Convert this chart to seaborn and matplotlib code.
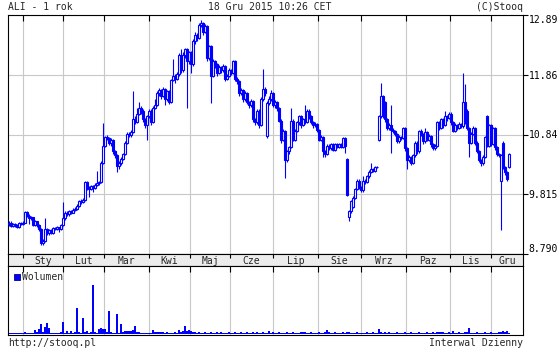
import numpy as np
import pandas as pd
import matplotlib
matplotlib.use("Agg")
import matplotlib.pyplot as plt
from matplotlib.patches import Rectangle
import seaborn as sns

# ---------------- data ----------------
opens = [
    9.30, 9.33, 9.27, 9.30, 9.28, 9.25, 9.32, 9.30, 9.33, 9.51,
    9.45, 9.40, 9.42, 9.29, 9.35, 9.28, 9.22, 8.98, 9.02, 9.22,
    9.15, 9.20, 9.15, 9.23, 9.22, 9.25, 9.22, 9.28, 9.40, 9.50,
    9.47, 9.52, 9.50, 9.55, 9.56, 9.62, 9.70, 9.68, 9.72, 10.02,
    9.92, 9.90, 9.95, 9.93, 9.98, 10.00, 10.02, 10.35, 10.65, 10.80,
    10.78, 10.70, 10.75, 10.55, 10.48, 10.30, 10.35, 10.42, 10.50, 10.70,
    10.85, 10.83, 10.88, 11.10, 11.05, 11.20, 11.30, 11.25, 11.10, 11.00,
    11.15, 11.25, 11.05, 11.30, 11.35, 11.55, 11.60, 11.50, 11.62, 11.45,
    11.58, 11.40, 11.78, 11.85, 11.80, 11.88, 12.20, 11.95, 12.20, 12.30,
    12.10, 12.25, 12.05, 12.45, 12.55, 12.50, 12.72, 12.75, 12.60, 12.70,
    12.15, 12.35, 11.85, 12.10, 12.05, 11.90, 12.00, 11.95, 12.02, 11.80,
    11.85, 11.95, 11.90, 12.10, 11.80, 11.75, 11.55, 11.60, 11.45, 11.55,
    11.40, 11.35, 11.42, 11.10, 11.05, 11.25, 11.00, 11.45, 11.62, 10.82,
    11.38, 11.45, 11.55, 11.35, 11.40, 11.30, 11.08, 10.75, 10.90, 10.40,
    10.55, 10.62, 11.07, 10.75, 10.90, 11.05, 11.15, 11.00, 11.10, 11.05,
    11.25, 11.15, 11.05, 11.00, 11.02, 10.92, 10.75, 10.80, 10.55, 10.50,
    10.65, 10.60, 10.68, 10.58, 10.67, 10.62, 10.68, 10.62, 10.78, 10.42,
    9.42, 9.52, 9.60, 9.75, 9.90, 10.05, 9.92, 9.88, 10.05, 10.02,
    10.12, 10.20, 10.25, 10.22, 10.28, 10.74, 11.16, 11.50, 11.40, 11.10,
    10.95, 11.00, 10.92, 10.90, 10.85, 10.72, 10.80, 10.78, 10.95, 10.60,
    10.40, 10.45, 10.35, 10.48, 10.70, 10.55, 10.90, 10.85, 10.72, 10.88,
    10.75, 10.82, 10.68, 10.60, 10.65, 11.05, 10.95, 11.10, 11.00, 11.15,
    11.12, 11.20, 11.05, 10.90, 11.00, 10.95, 11.02, 10.98, 11.40, 11.25,
    10.95, 10.70, 10.85, 10.95, 10.70, 10.55, 10.40, 10.35, 10.45, 11.15,
    10.65, 11.00, 10.68, 10.95, 10.62, 10.50, 10.05, 10.70, 10.28, 10.20,
    10.28,
]
closes = [
    9.33, 9.27, 9.30, 9.28, 9.25, 9.32, 9.30, 9.33, 9.51, 9.45,
    9.40, 9.42, 9.29, 9.35, 9.28, 9.22, 8.98, 9.02, 9.22, 9.15,
    9.20, 9.15, 9.23, 9.22, 9.25, 9.22, 9.28, 9.40, 9.50, 9.47,
    9.52, 9.50, 9.55, 9.56, 9.62, 9.70, 9.68, 9.72, 10.02, 9.92,
    9.90, 9.95, 9.93, 9.98, 10.00, 10.02, 10.35, 10.65, 10.80, 10.78,
    10.70, 10.75, 10.55, 10.48, 10.30, 10.35, 10.42, 10.50, 10.70, 10.85,
    10.83, 10.88, 11.10, 11.05, 11.20, 11.30, 11.25, 11.10, 11.00, 11.15,
    11.25, 11.05, 11.30, 11.35, 11.55, 11.60, 11.50, 11.62, 11.45, 11.58,
    11.40, 11.78, 11.85, 11.80, 11.88, 12.20, 11.95, 12.20, 12.30, 12.10,
    12.25, 12.05, 12.45, 12.55, 12.50, 12.72, 12.75, 12.60, 12.70, 12.15,
    12.35, 11.85, 12.10, 12.05, 11.90, 12.00, 11.95, 12.02, 11.80, 11.85,
    11.95, 11.90, 12.10, 11.80, 11.75, 11.55, 11.60, 11.45, 11.55, 11.40,
    11.35, 11.42, 11.10, 11.05, 11.25, 11.00, 11.45, 11.62, 11.55, 11.38,
    11.45, 11.55, 11.35, 11.40, 11.30, 11.08, 10.75, 10.90, 10.40, 10.55,
    10.62, 11.07, 10.75, 10.90, 11.05, 11.15, 11.00, 11.10, 11.05, 11.25,
    11.15, 11.05, 11.00, 11.02, 10.92, 10.75, 10.80, 10.55, 10.50, 10.65,
    10.60, 10.68, 10.58, 10.67, 10.62, 10.68, 10.62, 10.78, 10.65, 9.80,
    9.52, 9.70, 9.75, 9.90, 10.05, 9.92, 9.88, 10.05, 10.02, 10.12,
    10.20, 10.25, 10.22, 10.28, 10.28, 11.16, 11.50, 11.15, 11.10, 10.95,
    11.00, 10.92, 10.90, 10.85, 10.72, 10.80, 10.78, 10.95, 10.60, 10.40,
    10.45, 10.35, 10.48, 10.70, 10.55, 10.90, 10.85, 10.72, 10.88, 10.75,
    10.82, 10.68, 10.60, 10.65, 11.05, 10.95, 11.10, 11.00, 11.15, 11.12,
    11.20, 11.05, 10.90, 11.00, 10.95, 11.02, 10.98, 11.40, 11.05, 10.95,
    10.70, 10.85, 10.95, 10.70, 10.55, 10.40, 10.35, 10.45, 10.80, 10.65,
    11.00, 10.68, 10.95, 10.62, 10.50, 10.48, 10.48, 10.28, 10.20, 10.08,
    10.50,
]
highs = [
    9.36, 9.35, 9.32, 9.33, 9.30, 9.34, 9.34, 9.35, 9.52, 9.52,
    9.47, 9.45, 9.43, 9.37, 9.36, 9.30, 9.23, 9.05, 9.40, 9.24,
    9.22, 9.22, 9.25, 9.26, 9.27, 9.26, 9.30, 9.68, 9.52, 9.53,
    9.54, 9.55, 9.58, 9.60, 9.64, 9.72, 9.73, 9.75, 10.05, 10.04,
    9.95, 9.98, 9.97, 10.00, 10.22, 10.05, 10.38, 11.03, 10.82, 10.83,
    10.80, 10.78, 10.76, 10.58, 10.50, 10.38, 10.45, 10.53, 10.72, 10.88,
    10.88, 10.92, 11.59, 11.15, 11.30, 11.40, 11.33, 11.27, 11.12, 11.18,
    11.28, 11.27, 11.33, 11.45, 11.58, 11.63, 11.62, 11.65, 11.64, 11.60,
    11.60, 11.80, 12.14, 11.88, 11.92, 12.23, 12.30, 12.25, 12.33, 12.32,
    12.28, 12.27, 12.48, 12.60, 12.58, 12.75, 12.80, 12.77, 12.74, 12.72,
    12.38, 12.37, 12.13, 12.12, 12.07, 12.03, 12.02, 12.05, 12.04, 11.88,
    11.98, 11.97, 12.12, 12.12, 11.82, 11.77, 11.63, 11.62, 11.58, 11.57,
    11.42, 11.45, 11.44, 11.12, 11.28, 11.27, 11.48, 11.97, 11.65, 11.42,
    11.50, 11.60, 11.57, 11.43, 11.42, 11.32, 11.10, 10.93, 10.92, 10.58,
    10.65, 11.30, 11.10, 10.93, 11.08, 11.18, 11.17, 11.13, 11.35, 11.28,
    11.27, 11.17, 11.08, 11.05, 11.04, 10.94, 10.83, 10.82, 10.58, 10.68,
    10.67, 10.70, 10.70, 10.70, 10.69, 10.70, 10.70, 10.80, 10.80, 10.44,
    9.55, 9.72, 9.78, 9.93, 10.08, 10.07, 9.95, 10.12, 10.07, 10.15,
    10.23, 10.35, 10.27, 10.30, 10.30, 11.18, 11.73, 11.52, 11.42, 11.12,
    11.03, 11.35, 10.95, 10.92, 10.87, 10.83, 10.82, 10.97, 10.97, 10.62,
    10.48, 10.47, 10.50, 10.72, 10.72, 10.92, 10.93, 10.87, 10.95, 10.90,
    10.85, 10.84, 10.70, 10.68, 11.08, 11.07, 11.13, 11.12, 11.25, 11.18,
    11.22, 11.22, 11.07, 11.03, 11.02, 11.05, 11.04, 11.90, 11.70, 11.27,
    10.97, 10.88, 10.98, 10.97, 10.72, 10.57, 10.42, 10.48, 10.82, 11.17,
    11.02, 11.02, 10.97, 10.97, 10.64, 10.52, 10.50, 10.72, 10.30, 10.22,
    10.52,
]
lows = [
    9.27, 9.25, 9.25, 9.26, 9.23, 9.24, 9.28, 9.29, 9.32, 9.43,
    9.30, 9.38, 9.27, 9.27, 9.25, 9.18, 8.94, 8.95, 9.00, 9.12,
    9.12, 9.13, 9.14, 9.20, 9.20, 9.16, 9.21, 9.27, 9.38, 9.44,
    9.45, 9.48, 9.49, 9.53, 9.54, 9.60, 9.65, 9.66, 9.70, 9.88,
    9.76, 9.88, 9.85, 9.91, 9.96, 9.97, 10.00, 10.33, 10.62, 10.74,
    10.66, 10.65, 10.50, 10.44, 10.20, 10.25, 10.32, 10.40, 10.48, 10.68,
    10.80, 10.80, 10.86, 11.02, 11.03, 11.18, 11.20, 11.05, 10.95, 10.74,
    11.12, 11.00, 11.03, 11.28, 11.33, 11.50, 11.45, 11.48, 11.35, 11.42,
    11.36, 11.38, 11.75, 11.72, 11.78, 11.85, 11.90, 11.92, 12.15, 11.30,
    12.05, 11.90, 12.02, 12.40, 12.45, 12.48, 12.68, 12.55, 12.58, 12.10,
    12.12, 11.38, 11.82, 11.98, 11.85, 11.87, 11.90, 11.92, 11.75, 11.77,
    11.82, 11.86, 11.88, 11.75, 11.70, 11.50, 11.52, 11.40, 11.42, 11.36,
    11.30, 11.32, 11.05, 11.00, 11.02, 10.96, 10.98, 11.42, 11.50, 10.78,
    11.35, 11.42, 11.32, 11.30, 11.25, 11.05, 10.70, 10.72, 10.10, 10.37,
    10.50, 10.60, 10.72, 10.72, 10.88, 11.00, 10.96, 10.98, 11.02, 11.03,
    11.10, 11.02, 10.96, 10.97, 10.88, 10.72, 10.72, 10.45, 10.46, 10.48,
    10.57, 10.58, 10.55, 10.56, 10.60, 10.60, 10.60, 10.60, 10.53, 9.78,
    9.35, 9.50, 9.58, 9.73, 9.88, 9.90, 9.85, 9.86, 9.99, 10.00,
    10.10, 10.18, 10.19, 10.20, 10.26, 10.72, 11.13, 11.12, 11.05, 10.92,
    10.92, 10.53, 10.86, 10.82, 10.70, 10.70, 10.75, 10.76, 10.55, 10.25,
    10.37, 10.32, 10.33, 10.46, 10.50, 10.53, 10.82, 10.68, 10.70, 10.72,
    10.72, 10.62, 10.57, 10.58, 10.63, 10.92, 10.93, 10.96, 10.98, 11.08,
    11.10, 11.00, 10.88, 10.88, 10.92, 10.93, 10.95, 10.96, 11.02, 10.92,
    10.45, 10.68, 10.83, 10.66, 10.52, 10.36, 10.30, 10.32, 10.43, 10.62,
    10.63, 10.65, 10.66, 10.58, 10.47, 10.45, 9.20, 10.25, 10.15, 10.04,
    10.26,
]
volumes = [
    15, 10, 15, 10, 15, 10, 15, 10, 20, 15,
    10, 15, 15, 40, 20, 50, 100, 20, 70, 110,
    60, 15, 15, 10, 15, 15, 20, 120, 15, 30,
    15, 30, 15, 20, 260, 20, 15, 160, 20, 30,
    15, 20, 490, 20, 15, 55, 60, 55, 50, 20,
    230, 20, 15, 15, 200, 15, 100, 20, 35, 30,
    35, 35, 40, 80, 20, 20, 15, 15, 10, 15,
    15, 15, 40, 20, 20, 25, 20, 20, 15, 20,
    15, 15, 15, 20, 15, 40, 25, 30, 80, 30,
    40, 30, 25, 20, 15, 20, 15, 15, 20, 15,
    15, 20, 15, 15, 25, 15, 20, 15, 15, 15,
    20, 15, 15, 25, 15, 15, 20, 15, 15, 20,
    15, 15, 20, 15, 25, 15, 15, 20, 15, 15,
    30, 15, 20, 15, 15, 20, 15, 15, 15, 25,
    15, 15, 20, 15, 15, 15, 20, 25, 20, 15,
    15, 20, 15, 15, 15, 20, 15, 15, 20, 40,
    20, 15, 15, 20, 15, 15, 15, 20, 15, 25,
    20, 15, 15, 15, 20, 15, 15, 15, 15, 20,
    15, 15, 20, 15, 15, 50, 25, 15, 20, 15,
    25, 15, 15, 15, 20, 15, 15, 15, 20, 15,
    15, 20, 15, 15, 15, 20, 15, 15, 15, 20,
    15, 15, 20, 15, 25, 20, 25, 20, 15, 15,
    20, 15, 30, 15, 15, 20, 15, 15, 20, 25,
    60, 15, 15, 15, 20, 15, 15, 15, 20, 15,
    15, 20, 15, 15, 15, 20, 25, 30, 20, 30,
    15,
]
month_names = ["Sty", "Lut", "Mar", "Kwi", "Maj", "Cze",
               "Lip", "Sie", "Wrz", "Paz", "Lis", "Gru"]
month_pos = [7, 27, 47.5, 70, 90.5, 110.5, 132, 154.5, 176, 198.5, 220.5, 241]
price_ticks = [8.790, 9.815, 10.84, 11.86, 12.89]
price_tick_labels = ["8.790", "9.815", "10.84", "11.86", "12.89"]

# ---------------- styling ----------------
sns.set_theme(style="white")
plt.rcParams['font.family'] = ['DejaVu Sans Mono']
plt.rcParams['font.size'] = 7

BLUE = '#0000ff'
GRID = '#c8c8c8'
W, H = 560, 350
X0, X1 = -0.5, 257

fig = plt.figure(figsize=(5.6, 3.5), dpi=100, facecolor='white')


def box(l, t, r, b):
    return [l / W, 1 - b / H, (r - l) / W, (b - t) / H]


axp = fig.add_axes(box(8, 15, 523, 254))
axb = fig.add_axes(box(8, 254, 523, 266))
axv = fig.add_axes(box(8, 266, 523, 335))

df = pd.DataFrame({'day': np.arange(len(closes)), 'open': opens, 'high': highs,
                   'low': lows, 'close': closes, 'volume': volumes})
up = df[df['close'] >= df['open']]
dn = df[df['close'] < df['open']]

# ---- price panel (candles) ----
axp.vlines(df['day'], df['low'], df['high'], color=BLUE, lw=0.8, zorder=3)
axp.bar(up['day'], up['close'] - up['open'], bottom=up['open'], width=1.0,
        facecolor='white', edgecolor=BLUE, linewidth=0.8, zorder=4)
axp.bar(dn['day'], dn['open'] - dn['close'], bottom=dn['close'], width=1.0,
        facecolor=BLUE, edgecolor=BLUE, linewidth=0.8, zorder=4)
axp.set_xlim(X0, X1)
axp.set_ylim(price_ticks[0], price_ticks[-1])
axp.set_xticks(month_pos)
axp.set_yticks(price_ticks)
axp.set_yticklabels(price_tick_labels)
axp.yaxis.tick_right()
axp.grid(True, color=GRID, lw=0.8)
axp.set_axisbelow(True)
axp.tick_params(axis='y', right=True, left=False, direction='out', length=3.6,
                width=0.8, pad=0.5, colors='black', labelsize=7)
axp.tick_params(axis='x', top=True, bottom=False, direction='in', length=4,
                width=0.8, labeltop=False, labelbottom=False, colors='black')
for lbl in axp.get_yticklabels():
    if lbl.get_text() == price_tick_labels[-1]:
        lbl.set_va('top')
    elif lbl.get_text() == price_tick_labels[0]:
        lbl.set_va('bottom')

# ---- month band ----
axb.set_facecolor('#ececec')
axb.set_xlim(X0, X1)
axb.set_ylim(0, 1)
axb.set_yticks([])
axb.set_xticks(month_pos)
axb.tick_params(axis='x', top=True, bottom=False, direction='in', length=3,
                width=0.8, labelbottom=False, colors='black')
edges = month_pos + [X1]
for name, a, b in zip(month_names, edges[:-1], edges[1:]):
    axb.text((a + b) / 2, 0.45, name, ha='center', va='center', fontsize=7)

# ---- volume panel ----
sns.barplot(data=df, x='day', y='volume', native_scale=True, color=BLUE,
            width=0.55, errorbar=None, linewidth=0, saturation=1, ax=axv)
axv.set_xlim(X0, X1)
axv.set_ylim(-8, 680)
axv.set_xlabel('')
axv.set_ylabel('')
axv.set_yticks([])
axv.set_xticks(month_pos)
axv.grid(True, axis='x', color=GRID, lw=0.8)
axv.set_axisbelow(True)
axv.tick_params(axis='x', top=True, bottom=False, direction='in', length=4,
                width=0.8, labelbottom=False, colors='black')

for ax in (axp, axb, axv):
    for sp in ax.spines.values():
        sp.set_visible(True)
        sp.set_color('black')
        sp.set_linewidth(0.8)

# legend of the volume panel
fig.add_artist(Rectangle((14 / W, 1 - 280 / H), 6 / W, 6 / H, transform=fig.transFigure,
                         facecolor=BLUE, edgecolor='#000080', linewidth=0.6))
fig.text(22 / W, 1 - 276.5 / H, "Wolumen", ha='left', va='center', fontsize=7)

# header / footer
fig.text(8 / W, 1 - 7 / H, "ALI - 1 rok", ha='left', va='center', fontsize=7)
fig.text(270 / W, 1 - 7 / H, "18 Gru 2015 10:26 CET", ha='center', va='center', fontsize=7)
fig.text(523 / W, 1 - 7 / H, "(C)Stooq", ha='right', va='center', fontsize=7)
fig.text(8 / W, 1 - 343 / H, "http://stooq.pl", ha='left', va='center', fontsize=7)
fig.text(523 / W, 1 - 343 / H, "Interwal Dzienny", ha='right', va='center', fontsize=7)

fig.savefig('out.png', dpi=100, facecolor='white')
